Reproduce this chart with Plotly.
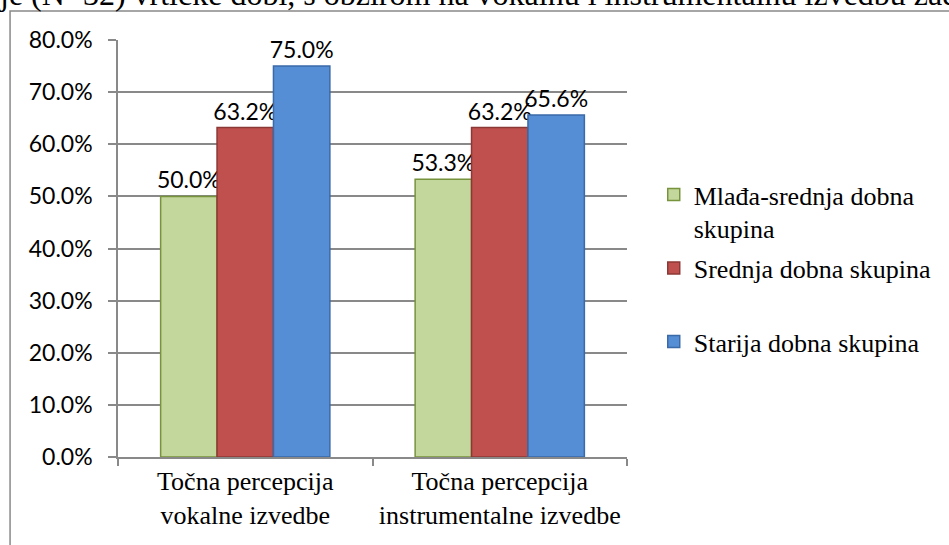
import plotly.graph_objects as go

# Categories on the x axis (two-line tick labels)
categories = [
    "Točna percepcija<br>vokalne izvedbe",
    "Točna percepcija<br>instrumentalne izvedbe",
]

# Share of correct perception (%) per age group
series_names = [
    "Mlađa-srednja dobna<br>skupina",
    "Srednja dobna skupina<br> ",
    "Starija dobna skupina<br> ",
]
mlada_srednja = [50.0, 53.3]
srednja = [63.2, 63.2]
starija = [75.0, 65.6]

y_ticks = [0, 10, 20, 30, 40, 50, 60, 70, 80]

heading = "je (N=32) vrtićke dobi, s obzirom na vokalnu i instrumentalnu izvedbu zad"

fills = ["#C3D69B", "#C0504D", "#558ED5"]
edges = ["#77933C", "#8C3836", "#3A6AA8"]

SERIF = "'Liberation Serif', 'DejaVu Serif', serif"
SANS = "Lato, sans-serif"

W, H = 949, 545
L, R, T, B = 118, 317, 40, 88
PW, PH = W - L - R, H - T - B


def px_x(px):
    return (px - L) / PW


def px_y(py):
    return (H - B - py) / PH


fig = go.Figure()
for name, vals, fc, ec in zip(series_names, [mlada_srednja, srednja, starija], fills, edges):
    fig.add_trace(go.Bar(
        x=categories,
        y=vals,
        name=name,
        legendgroup=name,
        marker=dict(color=fc, line=dict(color=ec, width=1.5)),
        text=[f"{v:.1f}%" for v in vals],
        textposition="outside",
        constraintext="none",
        cliponaxis=False,
        textfont=dict(family=SANS, size=23, color="#000000"),
    ))

grey = "#898989"

fig.update_layout(
    width=W,
    height=H,
    margin=dict(l=L, r=R, t=T, b=B, pad=0),
    paper_bgcolor="white",
    plot_bgcolor="white",
    barmode="group",
    bargap=0.335,
    bargroupgap=0,
    showlegend=True,
    legend=dict(
        x=px_x(659),
        y=px_y(171),
        xanchor="left",
        yanchor="top",
        valign="top",
        tracegroupgap=3,
        font=dict(family=SERIF, size=26, color="#000000"),
        bgcolor="rgba(0,0,0,0)",
    ),
    xaxis=dict(
        showline=True,
        linecolor=grey,
        linewidth=1.5,
        ticks="outside",
        tickson="boundaries",
        ticklen=7,
        tickwidth=1.5,
        tickcolor=grey,
        showgrid=False,
        tickfont=dict(family=SERIF, size=26, color="#000000"),
    ),
    yaxis=dict(
        range=[0, 80],
        tickvals=y_ticks,
        ticktext=[f"{v:.1f}%" for v in y_ticks],
        showline=True,
        linecolor=grey,
        linewidth=1.5,
        ticks="outside",
        ticklen=8,
        tickwidth=1.5,
        tickcolor=grey,
        showgrid=True,
        gridcolor=grey,
        gridwidth=1.5,
        zeroline=False,
        ticklabelstandoff=11,
        tickfont=dict(family=SANS, size=23, color="#000000"),
    ),
    shapes=[
        dict(
            type="rect",
            xref="paper",
            yref="paper",
            x0=px_x(9),
            x1=px_x(970),
            y0=px_y(570),
            y1=px_y(11),
            line=dict(color=grey, width=1.5),
            fillcolor="rgba(0,0,0,0)",
            layer="below",
        )
    ],
    annotations=[
        dict(
            text=heading,
            xref="paper",
            yref="paper",
            x=px_x(-4),
            y=px_y(14),
            xanchor="left",
            yanchor="bottom",
            showarrow=False,
            font=dict(family=SERIF, size=32, color="#000000"),
        )
    ],
)

fig.write_html("out.html")
